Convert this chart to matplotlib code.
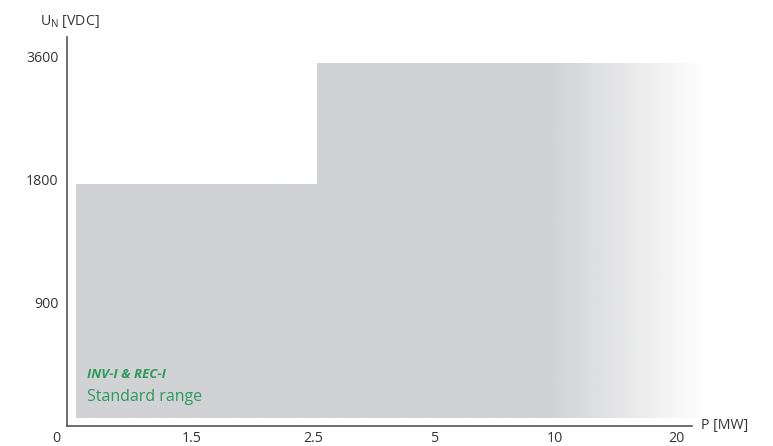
import matplotlib
matplotlib.use('Agg')
import matplotlib.pyplot as plt
import numpy as np
from matplotlib.path import Path
from matplotlib.patches import PathPatch

plt.rcParams['font.family'] = ['Open Sans', 'DejaVu Sans']
plt.rcParams['mathtext.fontset'] = 'custom'
plt.rcParams['mathtext.rm'] = 'Open Sans'

# Achsenkategorien (gleichmaessig verteilt)
p_labels = ['1.5', '2.5', '5', '10', '20']
p_werte = [1.5, 2.5, 5, 10, 20]
u_labels = ['900', '1800', '3600']
u_werte = [900, 1800, 3600]

# Standardbereich: ab P -> bis U
bereich_p = [0, 2.5]
bereich_u = [1800, 3600]

grau = '#d1d2d4'
gruen = '#2a9a5c'
fs = 10.2

def p_idx(p):
    return 0.0 if p == 0 else p_werte.index(p) + 1

def u_idx(u):
    return 0.0 if u == 0 else u_werte.index(u) + 1

fig = plt.figure(figsize=(7.73, 4.46), dpi=100)
ax = fig.add_axes([67 / 773, 20 / 446, (720 - 67) / 773, (426 - 37) / 446])
ax.set_xlim(-0.033, 5.364)
ax.set_ylim(-0.008, 3.155)

# Flaeche als Polygon (leicht eingerueckt)
ende = 5.24
x0 = p_idx(bereich_p[0]) + 0.041
x1 = p_idx(bereich_p[1]) + 0.03
y0 = 0.055
y1 = u_idx(bereich_u[0]) - 0.04
y2 = u_idx(bereich_u[1]) - 0.055
verts = [(x0, y0), (ende, y0), (ende, y2), (x1, y2), (x1, y1), (x0, y1), (x0, y0)]
codes = [Path.MOVETO] + [Path.LINETO] * 5 + [Path.CLOSEPOLY]
patch = PathPatch(Path(verts, codes), facecolor='none', edgecolor='none')
ax.add_patch(patch)

# Verlauf nach rechts ins Weisse
xs = np.linspace(x0, ende, 600)
alpha = np.clip((ende - xs) / (ende - 3.95), 0, 1)
rgb = matplotlib.colors.to_rgb(grau)
img = np.zeros((1, len(xs), 4))
img[0, :, :3] = rgb
img[0, :, 3] = alpha
im = ax.imshow(img, extent=[x0, ende, y0, y2], aspect='auto', interpolation='bilinear', zorder=1)
im.set_clip_path(patch)

# Achsen
for s in ['top', 'right']:
    ax.spines[s].set_visible(False)
for s in ['left', 'bottom']:
    ax.spines[s].set_color('#555555')
    ax.spines[s].set_linewidth(1.2)
ax.spines['bottom'].set_bounds(-0.033, 5.13)

ax.set_xticks([p_idx(p) for p in p_werte])
ax.set_xticklabels(p_labels)
ax.set_yticks([u_idx(u) for u in u_werte])
ax.set_yticklabels(u_labels)
ax.tick_params(length=0, labelsize=fs, labelcolor='#333333')
ax.tick_params(axis='x', pad=3.5)
ax.tick_params(axis='y', pad=6)

ax.text(-0.12, -0.05, '0', ha='center', va='top', fontsize=fs, color='#333333', clip_on=False)
ax.text(5.205, 0.0, 'P [MW]', ha='left', va='center', fontsize=fs, color='#333333', clip_on=False)
fig.text(40 / 773, 1 - 22 / 446, r'U$_\mathregular{N}$ [VDC]', ha='left', va='center', fontsize=fs, color='#333333')

ax.text(x0 + 0.09, 0.41, 'INV-I & REC-I', fontsize=9.5, fontweight='bold', fontstyle='italic', color=gruen, va='center')
ax.text(x0 + 0.09, 0.225, 'Standard range', fontsize=11.5, color=gruen, va='center')

fig.savefig('out.png', dpi=100)
